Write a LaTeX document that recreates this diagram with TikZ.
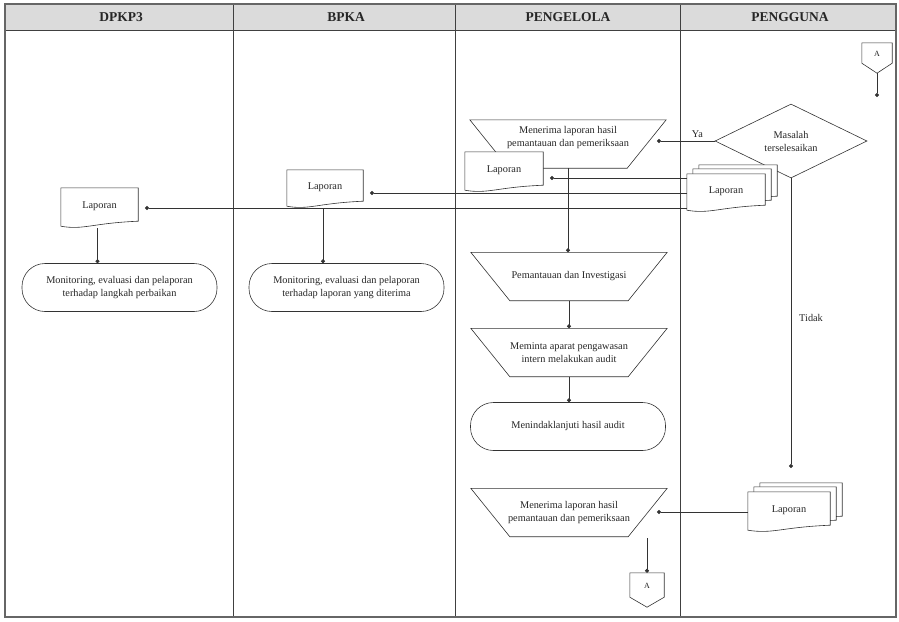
\documentclass[tikz,border=0pt]{standalone}
\usepackage{fontspec}
\setmainfont{Liberation Serif}
\usetikzlibrary{shapes.geometric,arrows.meta}

\newcommand\docoutline[1]{%
  \draw[shape line] (#1.north west) -- (#1.north east) -- ([yshift=7pt]#1.south east)
    .. controls ([xshift=-8pt,yshift=5pt]#1.south) and ([xshift=-16pt,yshift=-2pt]#1.south)
    .. ([yshift=2pt]#1.south west) -- cycle;}
\newcommand\laporandoc[3]{%
  \node[docbox,#3] (#1) at (#2) {};
  \docoutline{#1}
  \node[txt] (#1-t) at ([yshift=2pt]#1.center) {Laporan};}
\newcommand\multidoc[3]{%
  \node[docbox,#3,xshift=12pt,yshift=9pt] (#1-c) at (#2) {};
  \docoutline{#1-c}
  \node[docbox,#3,xshift=6pt,yshift=5pt] (#1-b) at (#2) {};
  \docoutline{#1-b}
  \laporandoc{#1}{#2}{#3}}
\newcommand\offpagenode[4]{%
  \node[offpg,minimum width=#3,minimum height=#4] (#1) at (#2) {};
  \draw[shape line] (#1.north west) -- (#1.north east) -- ([yshift=10pt]#1.south east)
    -- (#1.south) -- ([yshift=10pt]#1.south west) -- cycle;
  \node[txt,font=\fontsize{8}{9}\selectfont] (#1-t) at ([yshift=4pt]#1.center) {A};}
% manual operation: name, position, text, text shift
\newcommand\manopnode[4]{%
  \node[manbox] (#1) at (#2) {};
  \draw[shape line] (#1.north west) -- (#1.north east) -- ([xshift=-39pt]#1.south east)
    -- ([xshift=39pt]#1.south west) -- cycle;
  \node[txt] (#1-t) at ([yshift=#4]#1.center) {#3};}

\begin{document}
\begin{tikzpicture}[x=1pt,y=-1pt,
  every node/.style={font=\fontsize{10.3}{13}\selectfont, text=black!85},
  shape line/.style={draw=black!80, line width=0.6pt, fill=white},
  line/.style={draw=black!80, line width=0.6pt},
  conn/.style={draw=black!80, line width=0.6pt, -{Circle[length=4pt]}},
  docbox/.style={rectangle, inner sep=0pt},
  offpg/.style={rectangle, inner sep=0pt},
  manbox/.style={rectangle, inner sep=0pt, minimum width=196pt, minimum height=48pt},
  txt/.style={align=center, inner sep=0pt},
  term/.style={rectangle, rounded corners=23pt, shape line, minimum width=195pt,
    minimum height=48pt, align=center, inner sep=1pt},
  decision/.style={diamond, shape line, minimum width=152pt, minimum height=74pt,
    aspect=2, inner sep=0pt, align=center},
  head/.style={font=\fontsize{13.5}{15}\selectfont\bfseries, text=black!85},
  lane/.style={draw=black!75, line width=0.9pt}
]
\useasboundingbox (0,0) rectangle (899,621);

% frame and header
\fill[gray!28] (5,4) rectangle (896,30);
\draw[lane] (5,30) -- (896,30);
\draw[lane] (233,4) -- (233,617);
\draw[lane] (455,4) -- (455,617);
\draw[lane] (680,4) -- (680,617);
\draw[draw=gray!80!black, line width=1.2pt] (5,4) rectangle (896,617);

\node[head] (h1) at (121,17) {DPKP3};
\node[head] (h2) at (346,17) {BPKA};
\node[head] (h3) at (568,17) {PENGELOLA};
\node[head] (h4) at (790,17) {PENGGUNA};

% PENGGUNA
\offpagenode{A1}{877,58}{30pt}{30pt}
\coordinate (A1end) at (877,97);
\draw[conn] (A1.south) -- (A1end);

\node[decision] (dia) at (791,141) {Masalah\\terselesaikan};

% PENGELOLA
\manopnode{tp1}{568,144}{Menerima laporan hasil\\pemantauan dan pemeriksaan}{6.5pt}
\laporandoc{ld3}{504,172}{minimum width=78pt,minimum height=40pt}

\multidoc{md1}{726,193}{minimum width=78pt,minimum height=38pt}

\manopnode{tp2}{569,276.5}{Pemantauan dan Investigasi}{0pt}
\manopnode{tp3}{569,352.5}{Meminta aparat pengawasan\\intern melakukan audit}{0pt}
\node[term] (tm3) at (568,426.5) {Menindaklanjuti hasil audit};
\manopnode{tp4}{569,512.5}{Menerima laporan hasil\\pemantauan dan pemeriksaan}{0pt}
\offpagenode{A2}{647,590}{34pt}{34pt}

\multidoc{md2}{789,512}{minimum width=82pt,minimum height=40pt}

% BPKA
\laporandoc{ld2}{325,189}{minimum width=76pt,minimum height=38pt}
\node[term] (tm2) at (346.5,287.5) {Monitoring, evaluasi dan pelaporan\\terhadap laporan yang diterima};

% DPKP3
\laporandoc{ld1}{99.5,208}{minimum width=77pt,minimum height=40pt}
\node[term] (tm1) at (119.5,287.5) {Monitoring, evaluasi dan pelaporan\\terhadap langkah perbaikan};

% connectors
\coordinate (ya) at (657,141);
\draw[conn] (dia.west) -- node[above, pos=0.3, inner sep=3pt] (ylbl) {Ya} (ya);

\coordinate (c3) at (550,178);
\coordinate (c2) at (370,193);
\coordinate (c1) at (145,208);
\draw[conn] (md1.west |- c3) -- (c3);
\draw[conn] (md1.west |- c2) -- (c2);
\draw[conn] (md1.west |- c1) -- (c1);

\draw[conn] (tp1.south) -- (tp1.south |- tp2.north);
\draw[conn] (tp2.south) -- (tp3.north);
\draw[conn] (tp3.south) -- (tp3.south |- tm3.north);

\coordinate (tdk) at (791,468);
\draw[conn] (dia.south) -- (tdk);
\node[anchor=west, inner sep=0pt] (tlbl) at (799,318) {Tidak};

\coordinate (c4) at (657,512);
\draw[conn] (md2.west) -- (c4);

\coordinate (c5) at (647,538);
\draw[conn] (c5) -- (A2.north);

\draw[conn] ([xshift=-2pt]ld2.south) -- ([xshift=-2pt]ld2.south |- tm2.north);
\draw[conn] ([xshift=-2pt]ld1.south) -- ([xshift=-2pt]ld1.south |- tm1.north);
\end{tikzpicture}
\end{document}
